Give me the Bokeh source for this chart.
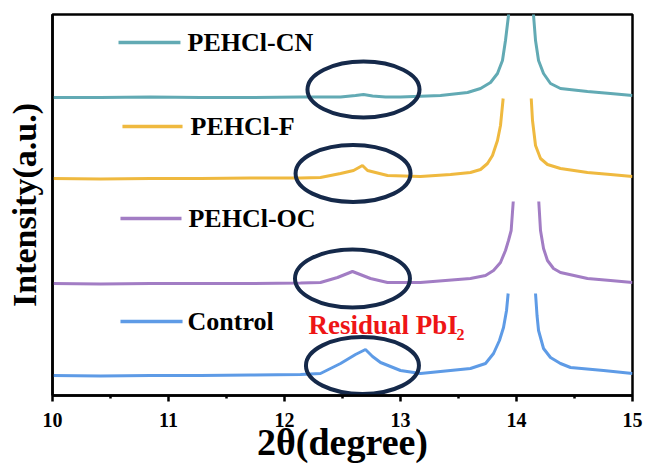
from bokeh.plotting import figure
from bokeh.models import Range1d, FixedTicker
from bokeh.core.properties import value
from bokeh.embed import file_html
from bokeh.resources import INLINE

NaN = float("nan")

# ---- data (2theta in degree, intensity in a.u.) ----
# each curve: left branch, NaN (gap at the clipped main peak), right branch
cn_x = [10.0, 10.414, 10.845, 11.276, 11.707, 12.138, 12.483, 12.612, 12.681, 12.759, 12.871,
        13.0, 13.345, 13.578, 13.69, 13.776, 13.836, 13.879, 13.905, 13.931, 13.935, NaN,
        14.147, 14.147, 14.164, 14.19, 14.233, 14.293, 14.379, 14.612, 14.81, 15.0]
cn_y = [298, 298, 298.5, 298, 298, 298.5, 298.5, 300, 301, 299.5, 298.5,
        298.5, 300, 303, 307, 313, 322, 335, 355, 380, 390, NaN,
        390, 380, 355, 335, 322, 312, 307, 304, 302, 300]

f_x = [10.0, 10.414, 10.845, 11.276, 11.707, 12.138, 12.31, 12.483, 12.595, 12.672, 12.716, 12.888,
       13.172, 13.431, 13.603, 13.69, 13.75, 13.793, 13.836, 13.862, 13.885, NaN,
       14.127, 14.138, 14.164, 14.207, 14.267, 14.379, 14.612, 14.81, 15.0]
f_y = [217, 216.5, 217, 217, 217.5, 217.5, 218, 222, 225, 230, 225, 220,
       219, 221, 223, 226, 232, 240, 255, 270, 297, NaN,
       297, 275, 250, 237, 231, 227, 223, 221, 219]

oc_x = [10.0, 10.414, 10.845, 11.276, 11.707, 12.138, 12.31, 12.457, 12.586, 12.741, 12.888,
        13.172, 13.603, 13.733, 13.802, 13.862, 13.905, 13.931, 13.954, 13.972, NaN,
        14.192, 14.207, 14.233, 14.267, 14.319, 14.379, 14.612, 14.81, 15.0]
oc_y = [112, 111.5, 112, 112, 112, 112.5, 113, 118, 124, 117, 113,
        113, 117, 120, 125, 133, 145, 155, 165, 194, NaN,
        194, 165, 147, 135, 127, 123, 117, 115, 113]

ct_x = [10.0, 10.414, 10.845, 11.276, 11.707, 12.138, 12.31, 12.483, 12.612, 12.698, 12.759,
        12.828, 13.0, 13.172, 13.603, 13.733, 13.802, 13.853, 13.888, 13.914, 13.928, NaN,
        14.164, 14.177, 14.19, 14.233, 14.293, 14.379, 14.466, 14.75, 15.0]
ct_y = [20, 19.5, 20, 20, 20.5, 21, 22, 32, 41, 46, 39,
        33, 25, 22, 27, 32, 42, 55, 68, 85, 102, NaN,
        102, 80, 65, 47, 38, 32, 28, 25, 22]

names = ["PEHCl-CN", "PEHCl-F", "PEHCl-OC", "Control"]
colors = ["#62aab4", "#efb93f", "#a27dc4", "#5e9be6"]
series_x = [cn_x, f_x, oc_x, ct_x]
series_y = [cn_y, f_y, oc_y, ct_y]

# legend entries (drawn inside plot)
leg_x0 = [10.569, 10.603, 10.586, 10.586]
leg_x1 = [11.103, 11.121, 11.112, 11.121]
leg_y = [353, 269, 177, 74]
leg_tx = [11.164, 11.19, 11.172, 11.164]

# ellipses marking residual PbI2 peaks
ell_x = [12.681, 12.591, 12.586, 12.672]
ell_y = [306, 222, 117, 30]
ell_w = [0.966, 0.991, 0.991, 0.974]
ell_h = [56, 57, 58, 57]

x_ticks = [10, 11, 12, 13, 14, 15]

FONT = "Liberation Serif"

p = figure(width=647, height=465, output_backend="svg", toolbar_location=None,
           x_range=Range1d(10, 15), y_range=Range1d(0, 381),
           min_border_left=52, min_border_right=15, min_border_top=14, min_border_bottom=70)
p.background_fill_color = "white"
p.border_fill_color = "white"
p.grid.visible = False
p.outline_line_color = "black"
p.outline_line_width = 2.5

for xs, ys, c in zip(series_x, series_y, colors):
    p.line(xs, ys, line_color=c, line_width=3)

p.ellipse(x=ell_x, y=ell_y, width=ell_w, height=ell_h, fill_color=None,
          line_color="#15294a", line_width=4)

p.segment(x0=leg_x0, y0=leg_y, x1=leg_x1, y1=leg_y, line_color=colors, line_width=3.5)
p.text(x=leg_tx, y=leg_y, text=names, text_font=value(FONT), text_font_style="bold",
       text_font_size="26px", text_baseline="middle", text_align="left", text_color="black")

p.text(x=[12.207], y=[70.5], text=["Residual PbI"], text_font=value(FONT), text_font_style="bold",
       text_font_size="27px", text_baseline="middle", text_align="left", text_color="#ee1515")
p.text(x=[13.483], y=[61.5], text=["2"], text_font=value(FONT), text_font_style="bold",
       text_font_size="16px", text_baseline="middle", text_align="left", text_color="#ee1515")

xa = p.xaxis[0]
xa.ticker = FixedTicker(ticks=x_ticks, minor_ticks=[10.5, 11.5, 12.5, 13.5, 14.5])
xa.axis_line_width = 2.5
xa.axis_line_color = "black"
xa.major_tick_in = 0
xa.major_tick_out = 6
xa.minor_tick_in = 0
xa.minor_tick_out = 3
xa.major_tick_line_width = 2.5
xa.minor_tick_line_width = 2.5
xa.major_label_text_font = FONT
xa.major_label_text_font_style = "bold"
xa.major_label_text_font_size = "20px"
xa.major_label_text_color = "black"
xa.major_label_standoff = 11
xa.axis_label = "2θ(degree)"
xa.axis_label_text_font = FONT
xa.axis_label_text_font_style = "bold"
xa.axis_label_text_font_size = "38px"
xa.axis_label_text_color = "black"
xa.axis_label_standoff = -9

ya = p.yaxis[0]
ya.ticker = FixedTicker(ticks=[])
ya.axis_line_width = 2.5
ya.axis_line_color = "black"
ya.major_tick_line_color = None
ya.minor_tick_line_color = None
ya.axis_label = "Intensity(a.u.)"
ya.axis_label_text_font = FONT
ya.axis_label_text_font_style = "bold"
ya.axis_label_text_font_size = "34px"
ya.axis_label_text_color = "black"
ya.axis_label_standoff = 10

open("out.html", "w").write(file_html(p, INLINE))
